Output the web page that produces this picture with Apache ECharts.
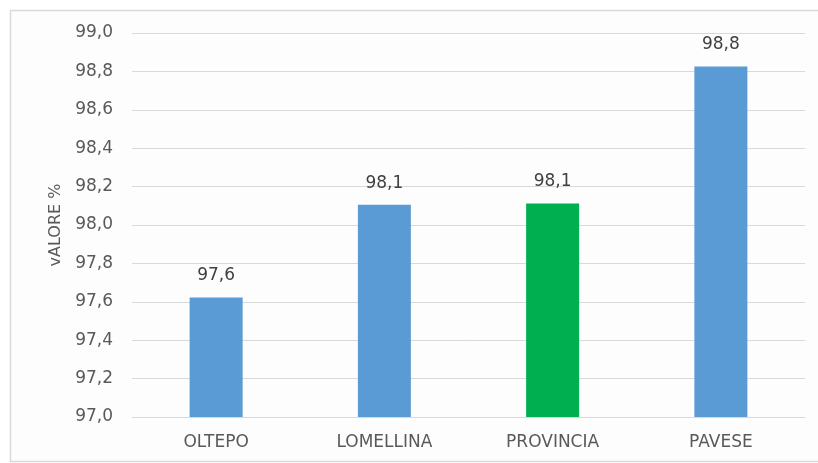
<!DOCTYPE html>
<html><head><meta charset="utf-8">
<script src="https://cdn.jsdelivr.net/npm/echarts@6/dist/echarts.min.js"></script>
<style>html,body{margin:0;padding:0;background:#fff}#c{width:818px;height:463px}</style>
</head><body><div id="c"></div>
<script>
const categories = ['OLTEPO', 'LOMELLINA', 'PROVINCIA', 'PAVESE'];
const values = [97.623, 98.105, 98.112, 98.826];
const barColors = ['#5B9BD5', '#5B9BD5', '#00B050', '#5B9BD5'];
const yMin = 97.0, yMax = 99.0, yStep = 0.2;
const yName = 'vALORE %';

const fmt = v => v.toFixed(1).replace('.', ',');
const chart = echarts.init(document.getElementById('c'), null, {renderer: 'canvas'});
chart.setOption({
  animation: false,
  backgroundColor: '#ffffff',
  textStyle: {fontFamily: 'DejaVu Sans'},
  graphic: [{type: 'rect', shape: {x: 10.5, y: 10.5, width: 820, height: 451}, style: {fill: '#fdfdfd', stroke: '#d9d9d9', lineWidth: 1.5}, z: -10}],
  grid: {left: 132, right: 13, top: 33, bottom: 46},
  xAxis: {
    type: 'category', data: categories,
    axisLine: {lineStyle: {color: '#d9d9d9'}},
    axisTick: {show: false},
    axisLabel: {color: '#595959', fontSize: 17, margin: 17}
  },
  yAxis: {
    type: 'value', min: yMin, max: yMax, interval: yStep,
    name: yName, nameLocation: 'middle', nameGap: 68, nameRotate: 90,
    nameTextStyle: {color: '#595959', fontSize: 16},
    axisLine: {show: false}, axisTick: {show: false},
    axisLabel: {color: '#595959', fontSize: 17, margin: 19, formatter: v => fmt(v)},
    splitLine: {lineStyle: {color: '#d9d9d9'}}
  },
  series: [{
    type: 'bar', barWidth: 53,
    data: values.map((v, i) => ({value: v, itemStyle: {color: barColors[i]}})),
    label: {show: true, position: 'top', distance: 13, color: '#404040', fontSize: 17, formatter: p => fmt(p.value)}
  }]
});
</script></body></html>
